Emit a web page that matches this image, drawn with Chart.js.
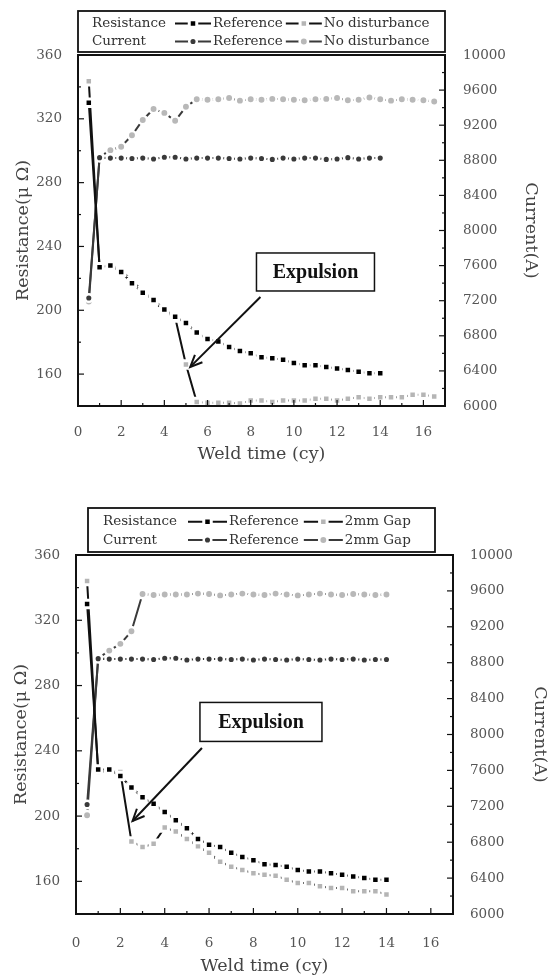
<!DOCTYPE html>
<html>
<head>
<meta charset="utf-8">
<script src="https://cdn.jsdelivr.net/npm/chart.js@4.4.1/dist/chart.umd.min.js"></script>
<style>
  html, body { margin: 0; padding: 0; background: #fff; }
  .box { position: absolute; left: 0; width: 548px; }
</style>
</head>
<body>
<div class="box" style="top:0;height:480px"><canvas id="chartTop" width="548" height="480"></canvas></div>
<div class="box" style="top:480px;height:497px"><canvas id="chartBottom" width="548" height="497"></canvas></div>
<script>
// weld time (cy)
const timeRef = [0.5, 1, 1.5, 2, 2.5, 3, 3.5, 4, 4.5, 5, 5.5, 6, 6.5, 7, 7.5, 8, 8.5, 9, 9.5, 10,
  10.5, 11, 11.5, 12, 12.5, 13, 13.5, 14];
const timeLong = [0.5, 1, 1.5, 2, 2.5, 3, 3.5, 4, 4.5, 5, 5.5, 6, 6.5, 7, 7.5, 8, 8.5, 9, 9.5, 10,
  10.5, 11, 11.5, 12, 12.5, 13, 13.5, 14, 14.5, 15, 15.5, 16, 16.5];

// top chart: reference vs no disturbance
const resRefTop = [330, 227, 228, 224, 217, 211, 206.5, 200.5, 196, 192, 186, 182, 180.5, 177, 174.5,
  173, 170.5, 170, 169, 167, 165.5, 165.5, 164.5, 163.5, 162.5, 161.5, 160.5, 160.5];
const resNoDisturb = [343.5, 226.5, 229, 225, 218.5, 212, 206, 199.5, 195.5, 166, 142.5, 142, 142, 142,
  141.5, 143.5, 143.5, 142.5, 143.5, 143.5, 143.5, 144.5, 144.5, 143.5, 144.5, 145.5, 144.5, 145.5,
  145.5, 145.5, 147, 147, 146];
const curRefTop = [7230, 8830, 8825, 8825, 8820, 8825, 8815, 8835, 8835, 8815, 8825, 8825, 8825, 8820,
  8815, 8825, 8820, 8810, 8825, 8815, 8825, 8825, 8810, 8815, 8830, 8815, 8825, 8825];
const curNoDisturb = [7190, 8840, 8915, 8955, 9085, 9260, 9385, 9340, 9250, 9410, 9495, 9490, 9495,
  9510, 9480, 9495, 9490, 9500, 9495, 9490, 9485, 9495, 9500, 9510, 9485, 9490, 9515, 9495, 9480,
  9495, 9490, 9485, 9470];

// bottom chart: reference vs 2mm gap
const resRefBottom = [330, 228.5, 228.5, 224.5, 217.5, 211.5, 207.5, 202.5, 197.5, 192.5, 186, 182.5,
  181, 177.5, 175, 173, 170.5, 170, 169, 167, 166, 166, 165, 164, 163, 162, 161, 161];
const resGap = [344, 227, 227.5, 227, 184.5, 181, 183, 193, 190.5, 186, 181.5, 177.5, 172, 169, 167,
  165, 164, 163.5, 161, 159, 159, 157, 156, 156, 154, 154, 154, 152];
const curRefBottom = [7220, 8845, 8840, 8840, 8840, 8840, 8835, 8850, 8850, 8830, 8840, 8840, 8840, 8835,
  8840, 8830, 8840, 8835, 8830, 8840, 8835, 8830, 8840, 8835, 8840, 8830, 8835, 8835];
const curGap = [7100, 8850, 8935, 9010, 9150, 9565, 9555, 9560, 9560, 9560, 9570, 9565, 9550, 9560,
  9570, 9560, 9555, 9570, 9560, 9550, 9560, 9570, 9560, 9555, 9565, 9560, 9555, 9560];

// tick labels
const timeTicks = [0, 2, 4, 6, 8, 10, 12, 14, 16];
const resTicks = [160, 200, 240, 280, 320, 360];
const curTicks = [6000, 6400, 6800, 7200, 7600, 8000, 8400, 8800, 9200, 9600, 10000];
const legendGroups = ['Resistance', 'Current'];

Chart.defaults.font.family = '"DejaVu Serif", serif';
Chart.defaults.color = '#555';

function pontos(xs, ys) {
  return xs.map((x, i) => ({ x: x, y: ys[i] }));
}

function resistanceSet(label, xs, ys, fill) {
  return {
    label: label, data: pontos(xs, ys), yAxisID: 'yRes',
    borderColor: '#111', borderWidth: 2,
    pointStyle: 'rect', pointRadius: 5.3,
    pointBackgroundColor: fill, pointBorderColor: '#fff', pointBorderWidth: 3
  };
}

function currentSet(label, xs, ys, fill, r) {
  return {
    label: label, data: pontos(xs, ys), yAxisID: 'yCur',
    borderColor: '#3a3a3a', borderWidth: 2,
    pointStyle: 'circle', pointRadius: r,
    pointBackgroundColor: fill, pointBorderColor: '#fff', pointBorderWidth: 2.5
  };
}

// plot frame + inward tick marks
const framePlugin = {
  id: 'frame',
  afterDraw(chart) {
    const ctx = chart.ctx;
    const a = chart.chartArea;
    ctx.save();
    ctx.strokeStyle = '#111';
    ctx.lineWidth = 1.2;
    const sx = chart.scales.x;
    sx.ticks.forEach(t => {
      if (t.value <= sx.min || t.value >= sx.max) return;
      const p = sx.getPixelForValue(t.value);
      const len = t.label !== '' ? 6 : 3;
      ctx.beginPath(); ctx.moveTo(p, a.bottom); ctx.lineTo(p, a.bottom - len); ctx.stroke();
    });
    ['yRes', 'yCur'].forEach(id => {
      const s = chart.scales[id];
      s.ticks.forEach(t => {
        if (t.value <= s.min || t.value >= s.max) return;
        const p = s.getPixelForValue(t.value);
        const len = t.label !== '' ? 6 : 3;
        const x0 = id === 'yRes' ? a.left : a.right;
        const dir = id === 'yRes' ? 1 : -1;
        ctx.beginPath(); ctx.moveTo(x0, p); ctx.lineTo(x0 + dir * len, p); ctx.stroke();
      });
    });
    ctx.lineWidth = 2;
    ctx.strokeRect(a.left, a.top, a.right - a.left, a.bottom - a.top);
    ctx.restore();
  }
};

function amostra(ctx, ds, x, y, w) {
  ctx.save();
  ctx.strokeStyle = ds.borderColor;
  ctx.lineWidth = ds.borderWidth;
  ctx.beginPath(); ctx.moveTo(x, y); ctx.lineTo(x + w, y); ctx.stroke();
  ctx.fillStyle = ds.pointBackgroundColor;
  ctx.strokeStyle = ds.pointBorderColor;
  ctx.lineWidth = ds.pointBorderWidth;
  Chart.helpers.drawPoint(ctx, { pointStyle: ds.pointStyle, radius: ds.pointRadius, rotation: 0, borderWidth: ds.pointBorderWidth }, x + w / 2, y);
  ctx.restore();
}

// two-row legend box above the plot
const legendPlugin = {
  id: 'legendBox',
  afterDraw(chart, args, o) {
    const ctx = chart.ctx;
    ctx.save();
    ctx.fillStyle = '#fff';
    ctx.fillRect(o.left, o.top, o.width, o.height);
    ctx.strokeStyle = '#111';
    ctx.lineWidth = 1.8;
    ctx.strokeRect(o.left, o.top, o.width, o.height);
    ctx.font = '13.5px "DejaVu Serif"';
    ctx.textBaseline = 'middle';
    o.rows.forEach((row, r) => {
      const y = o.rowY[r];
      ctx.fillStyle = '#333';
      ctx.fillText(legendGroups[r], o.left + o.labelX, y);
      let x = o.left + o.sampleX;
      row.forEach(i => {
        const ds = chart.data.datasets[i];
        amostra(ctx, ds, x, y, o.sampleW);
        x += o.sampleW + 2;
        ctx.fillStyle = '#333';
        ctx.fillText(ds.label, x, y);
        x += ctx.measureText(ds.label).width + o.gap;
      });
    });
    ctx.restore();
  }
};

// "Expulsion" box with arrow
const expulsionPlugin = {
  id: 'expulsion',
  afterDraw(chart, args, o) {
    const ctx = chart.ctx;
    const sx = chart.scales.x, sy = chart.scales.yRes;
    const cx = sx.getPixelForValue(o.box[0]), cy = sy.getPixelForValue(o.box[1]);
    const x0 = sx.getPixelForValue(o.from[0]), y0 = sy.getPixelForValue(o.from[1]);
    const x1 = sx.getPixelForValue(o.to[0]), y1 = sy.getPixelForValue(o.to[1]);
    ctx.save();
    ctx.fillStyle = '#fff';
    ctx.fillRect(cx - o.w / 2, cy - o.h / 2, o.w, o.h);
    ctx.strokeStyle = '#111';
    ctx.lineWidth = 1.5;
    ctx.strokeRect(cx - o.w / 2, cy - o.h / 2, o.w, o.h);
    ctx.fillStyle = '#111';
    ctx.font = 'bold 20px "Liberation Serif"';
    ctx.textAlign = 'center';
    ctx.textBaseline = 'middle';
    ctx.fillText(o.text, cx, cy + 1);
    ctx.lineWidth = 2;
    ctx.beginPath(); ctx.moveTo(x0, y0); ctx.lineTo(x1, y1); ctx.stroke();
    const ang = Math.atan2(y1 - y0, x1 - x0);
    ctx.beginPath();
    ctx.moveTo(x1 - 13 * Math.cos(ang - 0.42), y1 - 13 * Math.sin(ang - 0.42));
    ctx.lineTo(x1, y1);
    ctx.lineTo(x1 - 13 * Math.cos(ang + 0.42), y1 - 13 * Math.sin(ang + 0.42));
    ctx.stroke();
    ctx.restore();
  }
};

function opcoes(cfg) {
  return {
    responsive: false,
    animation: false,
    layout: { padding: { top: cfg.top, left: 0, right: 0, bottom: 0 } },
    plugins: {
      legend: { display: false },
      tooltip: { enabled: false },
      legendBox: cfg.legend,
      expulsion: cfg.note
    },
    scales: {
      x: {
        type: 'linear', min: 0, max: 17,
        grid: { display: false }, border: { display: false },
        ticks: {
          stepSize: 1, autoSkip: false, maxRotation: 0, padding: cfg.xPad,
          font: { size: 13.5 }, color: '#555',
          callback: v => timeTicks.includes(v) ? String(v) : ''
        },
        title: { display: true, text: 'Weld time (cy)', color: '#444', font: { size: 17.5 }, padding: { top: 0, bottom: cfg.xTitle } },
        afterFit: s => { s.height = cfg.xH; }
      },
      yRes: {
        type: 'linear', position: 'left', min: 140, max: 360,
        grid: { display: false }, border: { display: false },
        ticks: {
          stepSize: 20, autoSkip: false, padding: 8, font: { size: 13.5 }, color: '#555',
          callback: v => resTicks.includes(v) ? String(v) : ''
        },
        title: { display: true, text: 'Resistance(\u03bc \u03a9)', color: '#444', font: { size: 17.5 }, padding: { top: cfg.lTitle, bottom: 0 } },
        afterFit: s => { s.width = cfg.leftW; }
      },
      yCur: {
        type: 'linear', position: 'right', min: 6000, max: 10000,
        grid: { display: false }, border: { display: false },
        ticks: {
          stepSize: 200, autoSkip: false, padding: cfg.rPad, font: { size: 13.5 }, color: '#555',
          callback: v => curTicks.includes(v) ? String(v) : ''
        },
        title: { display: true, text: 'Current(A)', color: '#444', font: { size: 17.5 }, padding: { top: cfg.rTitle, bottom: 0 } },
        afterFit: s => { s.width = cfg.rightW; }
      }
    }
  };
}

new Chart(document.getElementById('chartTop'), {
  type: 'line',
  data: {
    datasets: [
      resistanceSet('Reference', timeRef, resRefTop, '#000'),
      resistanceSet('No disturbance', timeLong, resNoDisturb, '#b5b5b5'),
      currentSet('Reference', timeRef, curRefTop, '#3a3a3a', 3.8),
      currentSet('No disturbance', timeLong, curNoDisturb, '#b8b8b8', 4.2)
    ]
  },
  options: opcoes({
    top: 55, xH: 74, leftW: 78, rightW: 103, xPad: 10.6, xTitle: 15.5, lTitle: 13, rPad: 10, rTitle: 6.5,
    legend: { left: 78, top: 11, width: 367, height: 41, rowY: [23.5, 41.5], rows: [[0, 1], [2, 3]], labelX: 14, sampleX: 97, sampleW: 36, gap: 3 },
    note: { text: 'Expulsion', box: [11.0, 224], w: 118, h: 38, from: [8.45, 208.3], to: [5.2, 164.5] }
  }),
  plugins: [framePlugin, legendPlugin, expulsionPlugin]
});

new Chart(document.getElementById('chartBottom'), {
  type: 'line',
  data: {
    datasets: [
      resistanceSet('Reference', timeRef, resRefBottom, '#000'),
      resistanceSet('2mm Gap', timeRef, resGap, '#b5b5b5'),
      currentSet('Reference', timeRef, curRefBottom, '#3a3a3a', 3.8),
      currentSet('2mm Gap', timeRef, curGap, '#b8b8b8', 4.2)
    ]
  },
  options: opcoes({
    top: 75, xH: 63, leftW: 76, rightW: 95, xPad: 13.6, xTitle: 0, lTitle: 11, rPad: 9, rTitle: -2.5,
    legend: { left: 88, top: 28, width: 347, height: 44, rowY: [41.7, 60], rows: [[0, 1], [2, 3]], labelX: 15, sampleX: 100, sampleW: 39, gap: 5 },
    note: { text: 'Expulsion', box: [8.34, 257.7], w: 122, h: 39, from: [5.68, 241.7], to: [2.55, 197] }
  }),
  plugins: [framePlugin, legendPlugin, expulsionPlugin]
});
</script>
</body>
</html>
